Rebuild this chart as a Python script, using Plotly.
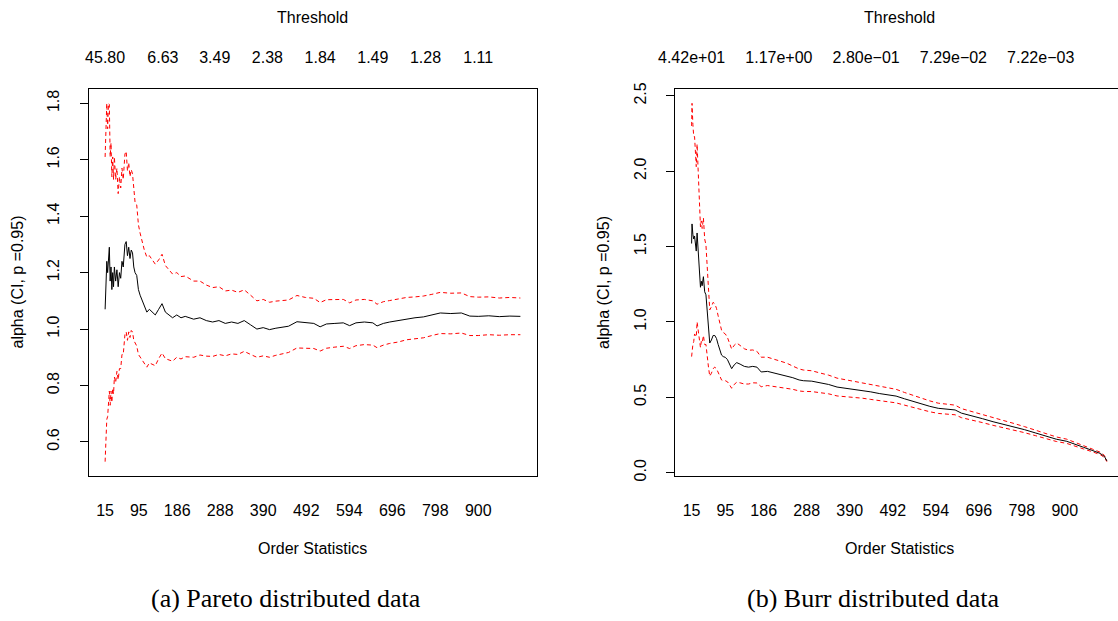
import plotly.graph_objects as go

# ---- Hill plot (a): Pareto distributed data ----
k_a = [15, 17, 19, 21, 23, 25, 27, 29, 31, 33, 35, 37, 40, 43, 46, 49, 52, 55, 58, 62,
       65, 68, 71, 74, 77, 80, 83, 86, 90, 94, 98, 103, 108, 114, 120, 127, 134, 142, 150, 158,
       166, 175, 185, 195, 205, 215, 225, 240, 255, 270, 285, 300, 315, 330, 345, 360, 375, 390, 405, 420,
       435, 450, 470, 490, 510, 525, 540, 560, 580, 595, 610, 630, 650, 660, 675, 690, 710, 730, 750, 770,
       790, 810, 835, 860, 880, 900, 925, 950, 975, 1000]
alpha_a = [1.07, 1.18, 1.24, 1.20, 1.28, 1.29, 1.17, 1.22, 1.14, 1.20, 1.15, 1.22, 1.17, 1.21, 1.15, 1.20, 1.18, 1.24, 1.22, 1.30,
           1.31, 1.26, 1.29, 1.25, 1.28, 1.27, 1.22, 1.20, 1.19, 1.14, 1.12, 1.10, 1.08, 1.06, 1.07, 1.06, 1.05, 1.07, 1.09, 1.06,
           1.05, 1.04, 1.05, 1.04, 1.045, 1.04, 1.035, 1.04, 1.03, 1.025, 1.03, 1.02, 1.025, 1.02, 1.03, 1.015, 1.00, 1.005, 0.998, 1.003,
           1.006, 1.01, 1.026, 1.022, 1.02, 1.008, 1.018, 1.02, 1.022, 1.012, 1.022, 1.025, 1.022, 1.011, 1.02, 1.025, 1.03, 1.037, 1.04, 1.043,
           1.05, 1.057, 1.055, 1.057, 1.046, 1.045, 1.047, 1.044, 1.046, 1.045]
upper_a = [1.61, 1.74, 1.80, 1.71, 1.80, 1.796, 1.61, 1.66, 1.54, 1.61, 1.53, 1.61, 1.53, 1.57, 1.48, 1.54, 1.50, 1.57, 1.53, 1.62,
           1.63, 1.56, 1.59, 1.54, 1.565, 1.55, 1.48, 1.45, 1.44, 1.37, 1.34, 1.31, 1.28, 1.255, 1.26, 1.245, 1.23, 1.245, 1.265, 1.225,
           1.21, 1.195, 1.20, 1.186, 1.188, 1.179, 1.17, 1.17, 1.156, 1.147, 1.15, 1.135, 1.138, 1.13, 1.139, 1.12, 1.10, 1.105, 1.095, 1.099,
           1.10, 1.103, 1.119, 1.112, 1.109, 1.094, 1.104, 1.104, 1.105, 1.093, 1.103, 1.105, 1.10, 1.088, 1.097, 1.101, 1.106, 1.112, 1.114, 1.117,
           1.123, 1.13, 1.127, 1.128, 1.115, 1.113, 1.114, 1.11, 1.112, 1.11]
lower_a = [0.53, 0.62, 0.68, 0.69, 0.76, 0.78, 0.73, 0.78, 0.74, 0.79, 0.77, 0.83, 0.81, 0.85, 0.82, 0.86, 0.86, 0.91, 0.91, 0.98,
           0.99, 0.96, 0.99, 0.97, 0.995, 0.99, 0.96, 0.95, 0.94, 0.91, 0.90, 0.89, 0.875, 0.865, 0.88, 0.875, 0.87, 0.895, 0.915, 0.895,
           0.89, 0.886, 0.90, 0.894, 0.902, 0.90, 0.90, 0.908, 0.904, 0.903, 0.91, 0.905, 0.912, 0.91, 0.921, 0.91, 0.90, 0.905, 0.90, 0.907,
           0.911, 0.917, 0.933, 0.932, 0.931, 0.922, 0.932, 0.936, 0.939, 0.931, 0.941, 0.945, 0.943, 0.934, 0.943, 0.949, 0.954, 0.962, 0.966, 0.969,
           0.977, 0.984, 0.983, 0.986, 0.977, 0.977, 0.98, 0.978, 0.98, 0.98]
thr_k_a = [15, 152, 275, 400, 525, 650, 775, 900]
thr_lab_a = ["45.80", "6.63", "3.49", "2.38", "1.84", "1.49", "1.28", "1.11"]
yticks_a = [0.6, 0.8, 1.0, 1.2, 1.4, 1.6, 1.8]

# ---- Hill plot (b): Burr distributed data ----
k_b = [15, 16, 18, 20, 22, 24, 26, 28, 30, 32, 34, 36, 38, 40, 43, 46, 49, 52, 55, 58,
       62, 66, 70, 74, 78, 82, 86, 90, 95, 100, 105, 110, 116, 122, 130, 140, 150, 160, 170, 180,
       195, 210, 225, 240, 255, 270, 280, 300, 320, 340, 360, 380, 400, 420, 440, 460, 480, 500, 520, 540,
       560, 580, 600, 620, 640, 655, 680, 705, 730, 755, 780, 805, 830, 855, 880, 905, 925, 945, 965, 984,
       994, 1000]
alpha_b = [1.52, 1.65, 1.58, 1.55, 1.57, 1.52, 1.47, 1.59, 1.50, 1.40, 1.32, 1.23, 1.27, 1.24, 1.30, 1.20, 1.18, 1.05, 0.95, 0.86,
           0.88, 0.91, 0.91, 0.89, 0.85, 0.82, 0.78, 0.77, 0.765, 0.75, 0.72, 0.69, 0.715, 0.73, 0.72, 0.705, 0.70, 0.705, 0.70, 0.668,
           0.672, 0.662, 0.655, 0.645, 0.63, 0.615, 0.61, 0.607, 0.596, 0.585, 0.568, 0.561, 0.553, 0.546, 0.536, 0.525, 0.518, 0.508, 0.49, 0.472,
           0.455, 0.44, 0.427, 0.42, 0.416, 0.395, 0.378, 0.358, 0.338, 0.322, 0.305, 0.285, 0.264, 0.242, 0.222, 0.208, 0.19, 0.168, 0.148, 0.128,
           0.108, 0.078]
upper_b = [2.30, 2.45, 2.31, 2.23, 2.23, 2.13, 2.03, 2.18, 2.04, 1.89, 1.76, 1.63, 1.67, 1.62, 1.69, 1.55, 1.51, 1.34, 1.20, 1.08,
           1.10, 1.13, 1.12, 1.09, 1.04, 1.00, 0.945, 0.93, 0.92, 0.897, 0.858, 0.82, 0.845, 0.86, 0.844, 0.822, 0.812, 0.814, 0.805, 0.766,
           0.766, 0.752, 0.741, 0.727, 0.707, 0.688, 0.681, 0.676, 0.661, 0.647, 0.627, 0.617, 0.607, 0.598, 0.586, 0.573, 0.564, 0.553, 0.532, 0.512,
           0.493, 0.476, 0.461, 0.453, 0.448, 0.425, 0.406, 0.384, 0.363, 0.345, 0.326, 0.305, 0.282, 0.258, 0.237, 0.222, 0.202, 0.179, 0.157, 0.136,
           0.115, 0.083]
lower_b = [0.77, 0.83, 0.85, 0.87, 0.92, 0.91, 0.90, 1.00, 0.96, 0.92, 0.88, 0.83, 0.87, 0.86, 0.91, 0.85, 0.85, 0.76, 0.70, 0.64,
           0.66, 0.69, 0.70, 0.69, 0.66, 0.64, 0.615, 0.61, 0.61, 0.603, 0.582, 0.56, 0.585, 0.60, 0.596, 0.588, 0.588, 0.596, 0.595, 0.57,
           0.578, 0.572, 0.569, 0.563, 0.553, 0.542, 0.539, 0.538, 0.531, 0.523, 0.509, 0.505, 0.499, 0.494, 0.486, 0.477, 0.472, 0.463, 0.448, 0.432,
           0.417, 0.404, 0.393, 0.387, 0.384, 0.365, 0.35, 0.332, 0.314, 0.299, 0.284, 0.265, 0.246, 0.226, 0.207, 0.194, 0.178, 0.157, 0.139, 0.12,
           0.101, 0.073]
thr_k_b = [15, 222, 429, 636, 843]
thr_lab_b = ["4.42e+01", "1.17e+00", "2.80e\u221201", "7.29e\u221202", "7.22e\u221203"]
yticks_b = [0.0, 0.5, 1.0, 1.5, 2.0, 2.5]

order_ticks = [15, 95, 186, 288, 390, 492, 594, 696, 798, 900]

W, H = 1118, 621
BOX_TOP, BOX_BOTTOM = 89, 476
LEFT_A, RIGHT_A = 88.5, 537.0
LEFT_B = 675.0
FONT = "Liberation Sans"


def padded(lo, hi, frac=0.04):
    span = hi - lo
    return [lo - frac * span, hi + frac * span]


xr_a = padded(min(k_a), max(k_a))
px_per_unit = (RIGHT_A - LEFT_A) / (xr_a[1] - xr_a[0])
# the second panel runs past the right edge of the page
xr_b0 = padded(min(k_b), max(k_b))[0]
xr_b = [xr_b0, xr_b0 + (W - LEFT_B) / px_per_unit]
yr_a = padded(min(lower_a), max(upper_a))
yr_b = padded(min(lower_b), max(upper_b))

ydom = [1 - BOX_BOTTOM / H, 1 - BOX_TOP / H]

fig = go.Figure()

red_dash = dict(color="#FF0000", width=1, dash="4px,3px")
black = dict(color="black", width=1)

fig.add_trace(go.Scatter(x=k_a, y=upper_a, mode="lines", line=red_dash, xaxis="x", yaxis="y"))
fig.add_trace(go.Scatter(x=k_a, y=lower_a, mode="lines", line=red_dash, xaxis="x", yaxis="y"))
fig.add_trace(go.Scatter(x=k_a, y=alpha_a, mode="lines", line=black, xaxis="x", yaxis="y"))

fig.add_trace(go.Scatter(x=k_b, y=upper_b, mode="lines", line=red_dash, xaxis="x3", yaxis="y2"))
fig.add_trace(go.Scatter(x=k_b, y=lower_b, mode="lines", line=red_dash, xaxis="x3", yaxis="y2"))
fig.add_trace(go.Scatter(x=k_b, y=alpha_b, mode="lines", line=black, xaxis="x3", yaxis="y2"))

# invisible traces so the threshold axes are laid out
fig.add_trace(go.Scatter(x=[k_a[0]], y=[alpha_a[0]], mode="markers", marker=dict(opacity=0),
                         xaxis="x2", yaxis="y", hoverinfo="skip"))
fig.add_trace(go.Scatter(x=[k_b[0]], y=[alpha_b[0]], mode="markers", marker=dict(opacity=0),
                         xaxis="x4", yaxis="y2", hoverinfo="skip"))

tickfont = dict(family=FONT, size=16, color="black")

bottom_axis = dict(ticks="", showgrid=False, zeroline=False, showline=True, mirror=True,
                   linecolor="black", linewidth=1, tickvals=order_ticks,
                   ticktext=[str(v) for v in order_ticks], tickfont=tickfont,
                   ticklabelstandoff=20, automargin=False)
top_axis = dict(ticks="", showgrid=False, zeroline=False, showline=False, side="top",
                tickfont=tickfont, ticklabelstandoff=22, automargin=False)
left_axis = dict(ticks="outside", ticklen=8, tickcolor="black", tickangle=-90,
                 showgrid=False, zeroline=False, showline=True, linecolor="black",
                 linewidth=1, tickformat=".1f", tickfont=tickfont, ticklabelstandoff=14,
                 automargin=False)

fig.update_layout(
    width=W, height=H,
    margin=dict(l=0, r=0, t=0, b=0, autoexpand=False),
    paper_bgcolor="white", plot_bgcolor="white",
    showlegend=False,
    font=dict(family=FONT, size=16, color="black"),
    xaxis=dict(bottom_axis, domain=[LEFT_A / W, RIGHT_A / W], range=xr_a, anchor="y"),
    xaxis2=dict(top_axis, overlaying="x", anchor="y", range=xr_a,
                tickvals=thr_k_a, ticktext=thr_lab_a),
    yaxis=dict(left_axis, domain=ydom, range=yr_a, tickvals=yticks_a, anchor="x", mirror=True),
    xaxis3=dict(bottom_axis, domain=[LEFT_B / W, 1.0], range=xr_b, anchor="y2"),
    xaxis4=dict(top_axis, overlaying="x3", anchor="y2", range=xr_b,
                tickvals=thr_k_b, ticktext=thr_lab_b),
    yaxis2=dict(left_axis, domain=ydom, range=yr_b, tickvals=yticks_b, anchor="x3", mirror=False),
)

center_a = (LEFT_A + RIGHT_A) / 2
offset_b = LEFT_B - LEFT_A
center_b = center_a + offset_b
ymid = (BOX_TOP + BOX_BOTTOM) / 2


def note(text, x, y, size=16, family=FONT, angle=0):
    fig.add_annotation(text=text, x=x / W, y=1 - y / H, xref="paper", yref="paper",
                       xanchor="center", yanchor="middle", showarrow=False, textangle=angle,
                       font=dict(family=family, size=size, color="black"))


for c in (center_a, center_b):
    note("Threshold", c, 17)
    note("Order Statistics", c, 548)
note("alpha (CI, p =0.95)", 17, ymid, angle=-90)
note("alpha (CI, p =0.95)", 17 + offset_b, ymid, angle=-90)
note("(a) Pareto distributed data", 286, 598, size=26, family="Liberation Serif")
note("(b) Burr distributed data", 286 + offset_b, 598, size=26, family="Liberation Serif")

fig.write_html("out.html")
